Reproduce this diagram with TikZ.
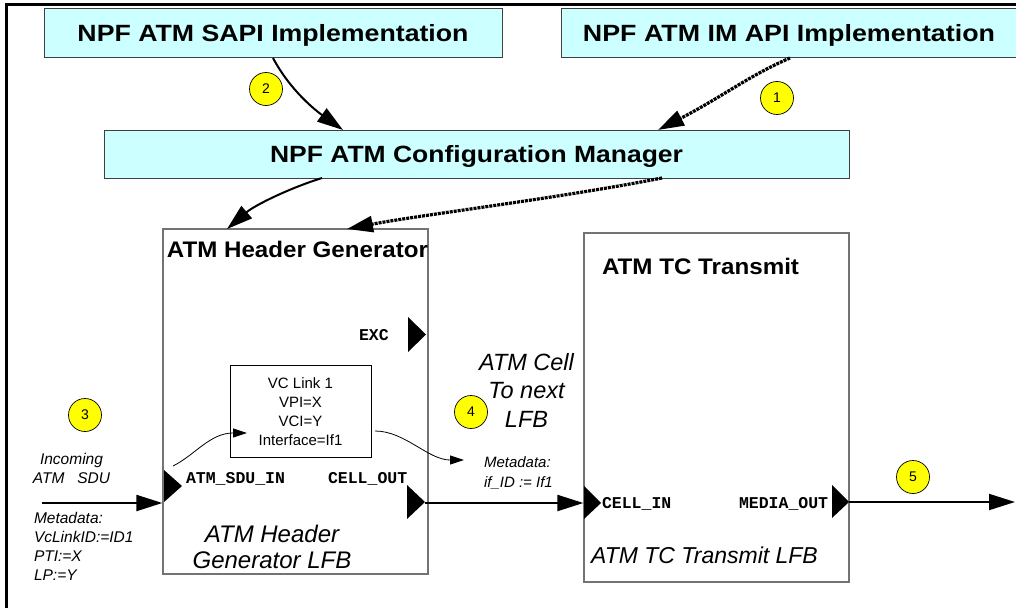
\documentclass[tikz,border=0pt]{standalone}
\usepackage{graphicx}
\usepackage{fontspec}
\setmainfont{Liberation Sans}
\newfontfamily\monof{Liberation Mono}
\usetikzlibrary{arrows.meta}
\definecolor{boxcyan}{RGB}{204,255,255}
\definecolor{yel}{RGB}{255,255,0}
\newcommand{\fw}[2]{\resizebox{#1}{\height}{#2}}
\newcommand{\cl}[1]{\begin{tabular}[t]{@{}c@{}}#1\end{tabular}}
\newcommand{\lftl}[1]{\begin{tabular}[t]{@{}l@{}}#1\end{tabular}}
\begin{document}
\begin{tikzpicture}[x=1pt,y=-1pt,
  topbox/.style={draw=black!75, fill=boxcyan, line width=1pt, inner sep=0pt,
    minimum height=49pt, text height=17pt, text depth=0pt,
    font=\fontsize{23.5}{27}\selectfont\bfseries},
  lfb/.style={draw=black!55, line width=1.2pt, inner sep=0pt},
  vcbox/.style={draw=black, line width=0.9pt, inner sep=0pt},
  txt/.style={inner sep=0pt, outer sep=0pt},
  ttl/.style={txt, font=\fontsize{22.5}{26}\selectfont\bfseries},
  mono/.style={txt, anchor=base west, font=\monof\bfseries\fontsize{16.5}{19}\selectfont},
  ital/.style={txt, font=\itshape\fontsize{15.5}{19}\selectfont},
  bigit/.style={txt, font=\itshape\fontsize{23}{28}\selectfont},
  num/.style={circle, draw=black, line width=0.7pt, fill=yel, minimum size=33pt, inner sep=0pt,
    font=\fontsize{14}{16}\selectfont},
  big/.style={-{Triangle[length=26pt,width=16pt]}, line width=2pt},
  dots/.style={-{Triangle[length=26pt,width=16pt]}, line width=3.2pt, dash pattern=on 3pt off 1pt},
  thinarr/.style={-{Triangle[length=14pt,width=9pt]}, line width=0.8pt},
]
\useasboundingbox (0,0) rectangle (1016,607);
% frame
\draw[line width=3pt] (6.3,608) -- (6.3,4.7) -- (1017,4.7);

% top boxes
\node[topbox, minimum width=458pt] (sapi) at (273,33.5) {\fw{391pt}{NPF ATM SAPI Implementation}};
\node[topbox, minimum width=456pt] (imapi) at (789,33.5) {\fw{412pt}{NPF ATM IM API Implementation}};
\node[topbox, minimum width=745pt, minimum height=48pt] (cfg) at (476.5,154) {\fw{413pt}{NPF ATM Configuration Manager}};

% LFB boxes
\node[lfb, minimum width=265pt, minimum height=345pt] (hg) at (295.5,401.5) {};
\node[lfb, minimum width=265pt, minimum height=349pt] (tc) at (716.5,407.5) {};
\node[ttl, anchor=base] (hgt) at (297.5,257) {\fw{261pt}{ATM Header Generator}};
\node[ttl, anchor=base] (tct) at (700.5,274) {\fw{197pt}{ATM TC Transmit}};

% VC link box
\node[vcbox, minimum width=141pt, minimum height=92pt] (vc) at (300.5,411) {};
\node[txt, anchor=base, font=\fontsize{15}{19}\selectfont] (vct) at (300.5,388)
  {\cl{VC Link 1\\VPI=X\\VCI=Y\\Interface=If1}};

% ports
\fill (408,317) -- (408,352) -- (426,334.5) -- cycle;
\fill (164,470) -- (164,502) -- (182,486) -- cycle;
\fill (407,485) -- (407,519) -- (425,502) -- cycle;
\fill (584,486) -- (584,519) -- (601,503) -- cycle;
\fill (832,485) -- (832,518) -- (849,502) -- cycle;

% port labels
\node[mono] (exc) at (359,340) {EXC};
\node[mono] (sduin) at (186,483) {ATM\_SDU\_IN};
\node[mono] (cellout) at (328,483) {CELL\_OUT};
\node[mono] (cellin) at (602,508) {CELL\_IN};
\node[mono] (mediaout) at (739,508) {MEDIA\_OUT};

% italic labels
\node[ital, anchor=base] (inc) at (71.5,464) {\cl{Incoming\\ATM\ \ \ SDU}};
\node[ital, anchor=base west] (meta1) at (34,523) {\lftl{Metadata:\\VcLinkID:=ID1\\PTI:=X\\LP:=Y}};
\node[ital, anchor=base west, font=\itshape\fontsize{15}{20}\selectfont] (meta2) at (484,467) {\lftl{Metadata:\\if\_ID := If1}};
\node[bigit, anchor=base, font=\itshape\fontsize{23.5}{28.5}\selectfont] (cell) at (526.5,370) {\cl{ATM Cell\\To next\\LFB}};
\node[bigit, anchor=base, font=\itshape\fontsize{24}{26}\selectfont] (hgl) at (272,542) {\cl{ATM Header\\Generator LFB}};
\node[bigit, anchor=base] (tcl) at (704.5,563) {ATM TC Transmit LFB};

% numbered circles
\node[num] (n1) at (777,98) {1};
\node[num] (n2) at (266,89) {2};
\node[num] (n3) at (85,415) {3};
\node[num] (n4) at (471,412) {4};
\node[num] (n5) at (913,477) {5};

% coordinates
\coordinate (a2s) at (273,58);
\coordinate (a2e) at (343,130);
\coordinate (a1s) at (790,58);
\coordinate (a1e) at (658,130);
\coordinate (c1s) at (322,178);
\coordinate (c1e) at (227,229);
\coordinate (c2s) at (662,178);
\coordinate (c2e) at (347,229);
\coordinate (inS) at (42,503);
\coordinate (cout) at (425,503);
\coordinate (mout) at (849,502);
\coordinate (outE) at (1015,502);
\coordinate (vin1) at (173,466);
\coordinate (vin2) at (247,433);
\coordinate (vout1) at (375,431);
\coordinate (vout2) at (464,460);

% connectors
\draw[big] (a2s) .. controls (290,90) and (315,110) .. (a2e);
\draw[dots] (a1s) .. controls (750,75) and (722,97) .. (a1e);
\draw[big] (c1s) .. controls (290,188) and (255,205) .. (c1e);
\draw[dots] (c2s) .. controls (560,198) and (420,215) .. (c2e);
\draw[big] (inS) -- (inS -| hg.west);
\draw[big] (cout) -- (cout -| tc.west);
\draw[big] (mout) -- (outE);
\draw[thinarr] (vin1) .. controls (195,455) and (210,433) .. (vin2);
\draw[thinarr] (vout1) .. controls (405,431) and (428,460) .. (vout2);
\end{tikzpicture}
\end{document}
